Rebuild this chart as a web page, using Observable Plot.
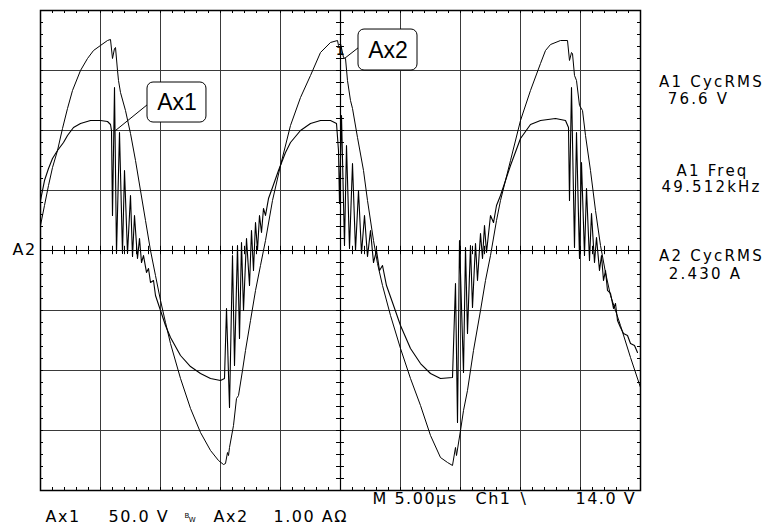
<!DOCTYPE html>
<html><head><meta charset="utf-8">
<script src="https://cdn.jsdelivr.net/npm/d3@7"></script>
<script src="https://cdn.jsdelivr.net/npm/@observablehq/plot@0.6"></script>
<style>body{margin:0;background:#fff;} svg{display:block;}</style>
</head><body><div id="chart"></div>
<script>
// Scope settings
const voltsPerDiv = 50;   // Ax1
const ampsPerDiv = 1;     // Ax2
const gridTimes = [0, 5, 10, 15, 20, 25, 30, 35, 40, 45, 50]; // µs (5 µs/div)
const gridDivs = [-4, -3, -2, -1, 0, 1, 2, 3, 4];

// Ax2: current trace [time µs, amps]
const currentTrace = [
[0,0.417],[0.333,0.75],[0.667,1.083],[1.0,1.383],[1.417,1.667],[1.833,2.033],[2.25,2.367],[2.667,2.667],
[3.333,3.0],[3.917,3.2],[4.417,3.333],[5.0,3.417],[5.583,3.5],[5.833,3.517],[6.0,3.2],[6.167,3.367],
[6.25,3.383],[6.417,3.0],[6.5,2.833],[6.667,2.633],[7.083,2.333],[7.5,1.95],[7.917,1.5],[8.333,1.0],
[8.75,0.5],[9.167,0],[9.583,-0.417],[10.0,-0.833],[10.417,-1.2],[10.833,-1.55],[11.667,-2.133],
[12.5,-2.633],[13.333,-3.033],[14.167,-3.333],[14.833,-3.5],[15.25,-3.567],[15.417,-3.55],[15.583,-3.367],
[15.667,-3.417],[15.75,-3.283],[16.083,-2.917],[16.333,-2.467],[16.5,-2.417],[16.833,-2.0],[17.083,-1.667],
[17.5,-1.167],[17.917,-0.667],[18.333,-0.25],[18.75,0.167],[19.333,0.833],[20.0,1.417],[20.833,2.083],
[21.667,2.55],[22.5,2.917],[23.333,3.3],[24.167,3.467],[24.75,3.5],[24.833,3.417],[25.0,3.45],[25.25,3.217],
[25.417,3.2],[25.583,2.833],[25.833,2.5],[26.0,2.367],[26.417,1.883],[26.917,1.333],[27.25,0.833],
[27.75,0.167],[28.083,-0.217],[28.5,-0.583],[29.167,-1.083],[30.0,-1.633],[30.833,-2.133],[31.667,-2.583],
[32.5,-3.083],[33.333,-3.45],[33.917,-3.533],[34.333,-3.583],[34.583,-3.283],[34.667,-3.417],[35.0,-3.0],
[35.25,-2.667],[35.583,-2.333],[36.083,-1.667],[36.667,-1.0],[37.083,-0.5],[37.5,-0.083],[38.0,0.5],
[38.333,0.833],[39.167,1.5],[40.0,2.167],[40.833,2.667],[41.667,3.117],[42.083,3.333],[42.5,3.433],
[43.333,3.5],[43.917,3.5],[44.083,3.167],[44.25,3.3],[44.333,3.283],[44.5,2.917],[44.667,2.833],
[44.917,2.417],[45.167,2.333],[45.417,1.917],[45.833,1.333],[46.25,0.667],[46.667,0.083],[47.083,-0.367],
[47.5,-0.75],[48.333,-1.25],[49.167,-1.783],[50.0,-2.283]
];

// Ax1: voltage trace [time µs, volts]
const voltageTrace = [
[0,41.7],[0.333,58.3],[0.667,68.3],[1.0,76.7],[1.417,83.3],[1.917,90],[2.25,95.8],[2.75,102.5],
[3.333,105.8],[4.167,108.3],[5.0,108.3],[5.583,107.5],[5.833,105],[5.917,100],[6.0,29.2],[6.167,135.8],
[6.333,-2.5],[6.583,98.3],[6.833,-2.5],[7.0,66.7],[7.25,-2.5],[7.5,45.8],[7.667,-5],[7.833,29.2],
[8.083,-6.7],[8.25,10],[8.417,-10],[8.583,-4.2],[8.833,-18.3],[9.0,-15],[9.167,-26.7],[9.417,-25],
[9.583,-37.5],[10.0,-50],[10.417,-62.5],[10.833,-72.5],[11.667,-87.5],[12.5,-96.7],[13.333,-102.5],
[14.167,-106.7],[15.0,-108.3],[15.333,-106.7],[15.5,-48.3],[15.75,-130.8],[16.0,-4.2],[16.167,-95.8],
[16.417,4.2],[16.583,-73.3],[16.75,6.7],[16.917,-50],[17.167,10],[17.417,-29.2],[17.583,16.7],
[17.75,-16.7],[17.917,23.3],[18.083,0],[18.25,29.2],[18.417,15],[18.583,35],[18.75,29.2],[19.0,43.3],
[19.333,52.5],[19.833,66.7],[20.417,81.7],[20.833,90],[21.667,100],[22.5,105.8],[23.333,108.3],
[24.167,108.3],[24.667,105.8],[24.833,83.3],[24.917,39.2],[25.083,112.5],[25.333,4.2],[25.5,87.5],
[25.75,1.7],[26.0,72.5],[26.25,0],[26.5,50],[26.75,-2.5],[27.0,29.2],[27.25,-5],[27.5,16.7],[27.75,-10],
[28.0,0],[28.25,-16.7],[28.5,-12.5],[28.833,-29.2],[29.333,-43.3],[30.0,-62.5],[30.833,-81.7],
[31.667,-94.2],[32.5,-102.5],[33.333,-106.7],[34.333,-105.8],[34.583,-27.5],[34.75,-143.3],[34.917,8.3],
[35.25,-101.7],[35.417,2.5],[35.583,-69.2],[35.833,4.2],[36.0,-47.5],[36.25,5.8],[36.417,-25],
[36.667,14.2],[36.833,-6.7],[37.0,20.8],[37.167,-1.7],[37.5,29.2],[37.75,23.3],[38.0,37.5],[38.333,45.8],
[38.75,58.3],[39.167,70.8],[40.0,93.3],[40.833,105],[41.667,108.3],[42.917,110],[43.75,108.3],[44.0,102.5],
[44.083,41.7],[44.25,135.8],[44.5,2.5],[44.667,98.3],[44.917,-6.7],[45.083,73.3],[45.333,-4.2],
[45.5,51.7],[45.75,-8.3],[45.917,30.8],[46.167,-10],[46.333,10.8],[46.583,-16.7],[46.75,-4.2],
[46.917,-25],[47.083,-16.7],[47.25,-33.3],[47.5,-35.8],[47.75,-48.3],[47.917,-44.2],[48.083,-58.3],
[48.333,-64.2],[48.583,-69.2],[48.917,-70.8],[49.167,-77.5],[49.5,-79.2],[49.75,-85]
];

// Measurement readouts and status line texts
const measureLabels = ["A1 CycRMS", "76.6 V", "A1 Freq", "49.512kHz", "A2 CycRMS", "2.430 A"];
const statusLabels = ["Ax1", "50.0 V", "Ax2", "1.00 AΩ", "M 5.00µs", "Ch1", "\\", "14.0 V"];
const cursorLabels = ["Ax1", "Ax2"];

// ---------- layout (positions in scope units: µs, divisions) ----------
const measurePos = [[55.92,2.733],[54.83,2.45],[56.0,1.25],[55.92,0.967],[55.92,-0.183],[55.42,-0.467]];
const statusPos = [[0.417,-4.533],[5.667,-4.533],[14.417,-4.533],[19.417,-4.533],
                   [27.67,-4.217],[36.25,-4.217],[40.0,-4.217],[44.58,-4.217]];
const measureData = measureLabels.map((t,i)=>({text:t, x:measurePos[i][0], y:measurePos[i][1]}));
const statusData = statusLabels.map((t,i)=>({text:t, x:statusPos[i][0], y:statusPos[i][1]}));
const boxes = [
  {text: cursorLabels[0], x1: 8.917, x2: 13.83, y1: 2.8, y2: 2.133, tx: 11.37, ty: 2.467,
   lx1: 8.917, ly1: 2.433, lx2: 6.25, ly2: 2.0},
  {text: cursorLabels[1], x1: 26.5, x2: 31.417, y1: 3.683, y2: 3.0, tx: 28.96, ty: 3.33,
   lx1: 26.5, ly1: 3.383, lx2: 25.33, ly2: 3.2}
];

const minorTimes = d3.range(0, 50.001, 1);
const minorDivs = d3.range(-4, 4.001, 0.2);

const scopeFont = "DejaVu Sans";
const gridColor = "#3a3a3a";

const plot = Plot.plot({
  width: 765, height: 528,
  marginLeft: 40, marginRight: 125, marginTop: 10, marginBottom: 38,
  x: {domain: [0, 50], axis: null},
  y: {domain: [-4, 4], axis: null},
  style: {background: "white", overflow: "visible"},
  marks: [
    Plot.ruleX(gridTimes, {x: d => d, y1: -4, y2: 4, stroke: gridColor, strokeWidth: 1}),
    Plot.ruleY(gridDivs, {y: d => d, x1: 0, x2: 50, stroke: gridColor, strokeWidth: 1}),
    // minor ticks along borders and center axes
    Plot.ruleX(minorTimes, {x: d => d, y1: 4, y2: 3.95, stroke: "black"}),
    Plot.ruleX(minorTimes, {x: d => d, y1: -4, y2: -3.95, stroke: "black"}),
    Plot.ruleX(minorTimes, {x: d => d, y1: -0.07, y2: 0.07, stroke: "black"}),
    Plot.ruleY(minorDivs, {y: d => d, x1: 0, x2: 0.25, stroke: "black"}),
    Plot.ruleY(minorDivs, {y: d => d, x1: 50, x2: 49.75, stroke: "black"}),
    Plot.ruleY(minorDivs, {y: d => d, x1: 24.67, x2: 25.33, stroke: "black"}),
    Plot.ruleY([0], {x1: 0, x2: 50, stroke: "black", strokeWidth: 1.2}),
    Plot.ruleX([25], {y1: -4, y2: 4, stroke: "black", strokeWidth: 1.2}),
    Plot.frame({stroke: "black", strokeWidth: 1.5}),
    // traces
    Plot.line(currentTrace, {x: d => d[0], y: d => d[1] / ampsPerDiv, stroke: "black", strokeWidth: 1}),
    Plot.line(voltageTrace, {x: d => d[0], y: d => d[1] / voltsPerDiv, stroke: "black", strokeWidth: 1.1}),
    // small trace marker near the Ax2 cursor
    Plot.text(["1"], {x: 24.97, y: 3.33, text: d => d, fontSize: 12, fontWeight: "bold", fontFamily: scopeFont, fill: "black"}),
    // cursor callouts
    Plot.link(boxes, {x1: "lx1", y1: "ly1", x2: "lx2", y2: "ly2", stroke: "black", strokeWidth: 1}),
    Plot.rect(boxes, {x1: "x1", x2: "x2", y1: "y1", y2: "y2", fill: "white", stroke: "black", strokeWidth: 1, rx: 6}),
    Plot.text(boxes, {x: "tx", y: "ty", text: "text", fontSize: 23, fontFamily: "Liberation Sans, Arial", fill: "black"}),
    // ground marker label
    Plot.text(["A2"], {x: -2.333, y: -0.083, text: d => d, textAnchor: "start", lineAnchor: "bottom",
      fontSize: 16, fontFamily: scopeFont, fill: "black", className: "gnd"}),
    // measurement readouts
    Plot.text(measureData, {x: "x", y: "y", text: "text", textAnchor: "middle", lineAnchor: "bottom",
      fontSize: 15, fontFamily: scopeFont, fill: "black", className: "readout"}),
    // status line
    Plot.text(statusData, {x: "x", y: "y", text: "text", textAnchor: "start", lineAnchor: "bottom",
      fontSize: 16, fontFamily: scopeFont, fill: "black", className: "status"}),
    Plot.text(["B"], {x: 12.0, y: -4.45, text: d => d, textAnchor: "start", lineAnchor: "bottom", fontSize: 7, fontFamily: scopeFont}),
    Plot.text(["W"], {x: 12.35, y: -4.53, text: d => d, textAnchor: "start", lineAnchor: "bottom", fontSize: 7, fontFamily: scopeFont})
  ]
});
const css = document.createElementNS("http://www.w3.org/2000/svg", "style");
css.textContent = ".readout text{letter-spacing:2.2px} .status text{letter-spacing:1.5px} .gnd text{letter-spacing:1.5px}";
plot.appendChild(css);
document.getElementById("chart").appendChild(plot);
</script>
</body></html>
